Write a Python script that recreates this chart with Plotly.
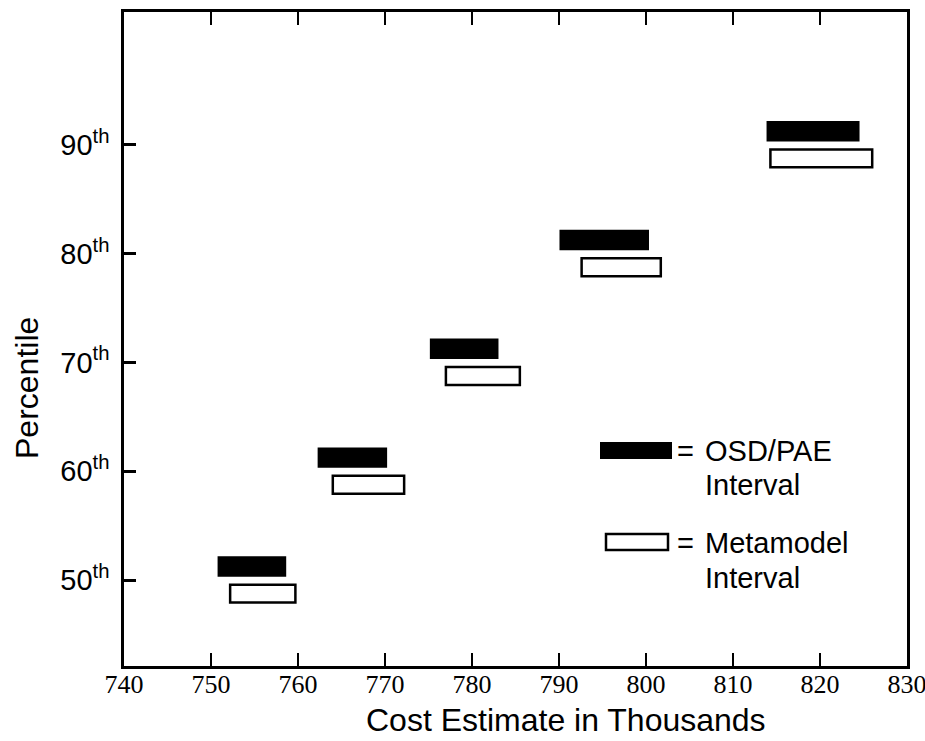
import plotly.graph_objects as go

# ---- data ----
percentiles = [50, 60, 70, 80, 90]
percentile_labels = ["50<sup>th</sup>", "60<sup>th</sup>", "70<sup>th</sup>", "80<sup>th</sup>", "90<sup>th</sup>"]
osd_low = [750.9, 762.4, 775.3, 790.2, 814.0]
osd_high = [758.5, 770.1, 782.9, 800.2, 824.4]
meta_low = [752.2, 764.0, 777.0, 792.6, 814.3]
meta_high = [759.7, 772.2, 785.5, 801.7, 826.0]
x_ticks = [740, 750, 760, 770, 780, 790, 800, 810, 820, 830]

W, H = 925, 741
ML, MR, MT, MB = 124, 18, 12, 75
PW, PH = W - ML - MR, H - MT - MB


def px(x):
    return (x - ML) / PW


def py(y):
    return (H - MB - y) / PH


fig = go.Figure()
fig.add_trace(go.Bar(
    name="Metamodel Interval", orientation="h", y=percentiles,
    x=[h - l for l, h in zip(meta_low, meta_high)], base=meta_low,
    marker=dict(color="white", line=dict(color="black", width=2.5)),
    showlegend=False, hoverinfo="skip"))
fig.add_trace(go.Bar(
    name="OSD/PAE Interval", orientation="h", y=percentiles,
    x=[h - l for l, h in zip(osd_low, osd_high)], base=osd_low,
    marker=dict(color="black", line=dict(color="black", width=2.5)),
    showlegend=False, hoverinfo="skip"))

# legend drawn as shapes + text
fig.add_shape(type="rect", xref="paper", yref="paper",
              x0=px(601), x1=px(671), y0=py(458), y1=py(443),
              fillcolor="black", line=dict(color="black", width=2))
fig.add_shape(type="rect", xref="paper", yref="paper",
              x0=px(606), x1=px(668), y0=py(550), y1=py(534),
              fillcolor="white", line=dict(color="black", width=2.5))

sans = "Liberation Sans, Arial, sans-serif"
ann_font = dict(family=sans, size=29, color="black")
for txt, xx, yy in [("=", 675, 451), ("OSD/PAE", 703, 451), ("Interval", 703, 485),
                    ("=", 675, 543), ("Metamodel", 703, 543), ("Interval", 703, 578)]:
    fig.add_annotation(text=txt, xref="paper", yref="paper", x=px(xx), y=py(yy),
                       xanchor="left", yanchor="middle", showarrow=False, font=ann_font)

# axis titles
title_font = dict(family=sans, size=32, color="black")
fig.add_annotation(text="Cost Estimate in Thousands", xref="paper", yref="paper",
                   x=px(566), y=py(720), xanchor="center", yanchor="middle",
                   showarrow=False, font=title_font)
fig.add_annotation(text="Percentile", xref="paper", yref="paper",
                   x=px(27), y=py(388), xanchor="center", yanchor="middle",
                   textangle=-90, showarrow=False, font=title_font)

fig.update_layout(
    width=W, height=H,
    margin=dict(l=ML, r=MR, t=MT, b=MB, autoexpand=False),
    paper_bgcolor="white", plot_bgcolor="white",
    barmode="group", bargap=0.5, bargroupgap=0.34,
    showlegend=False,
)
fig.update_xaxes(
    range=[740, 830], tickvals=x_ticks, ticktext=[str(v) for v in x_ticks],
    ticks="inside", ticklen=13, tickwidth=2, tickcolor="black",
    showline=True, linecolor="black", linewidth=2.5, mirror="ticks",
    showgrid=False, zeroline=False, ticklabelstandoff=-7,
    ticklabeloverflow="allow",
    tickfont=dict(family="Liberation Serif, Times New Roman, serif", size=26, color="black"),
)
fig.update_yaxes(
    range=[42.1, 102.2], tickvals=percentiles, ticktext=percentile_labels,
    ticks="inside", ticklen=12, tickwidth=2.5, tickcolor="black",
    showline=True, linecolor="black", linewidth=2.5, mirror=True,
    showgrid=False, zeroline=False, ticklabelstandoff=6,
    tickfont=dict(family=sans, size=29, color="black"),
)

fig.write_html("out.html")
